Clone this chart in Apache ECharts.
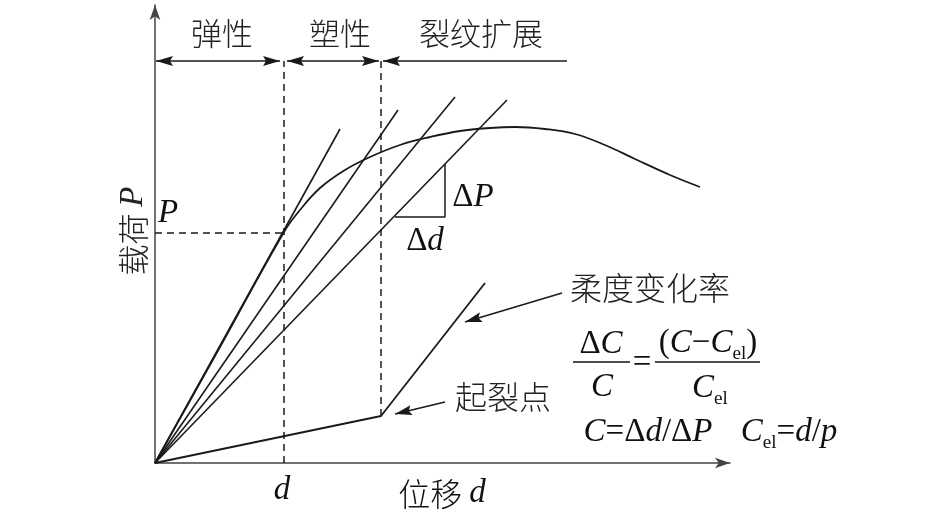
<!DOCTYPE html>
<html><head><meta charset="utf-8">
<script src="https://cdn.jsdelivr.net/npm/echarts@6/dist/echarts.min.js"></script>
<style>html,body{margin:0;padding:0;background:#fff}#c{width:945px;height:517px}</style>
</head><body><div id="c"></div>
<script>
// ---- data (schematic units: displacement d, load P) ----
var tangent1 = [[0, 0], [185, 334]];
var tangent2 = [[0, 0], [243, 353]];
var tangent3 = [[0, 0], [300, 366]];
var tangent4 = [[0, 0], [352, 363]];
var loadCurve = [[0,0],[60,107],[129,231],[145,253],[165,275],[190,293],[215,306],[245,318],[275,326],[305,332],[335,335],[360,336],[390,334],[420,329],[450,318],[480,304],[515,288],[545,276]];
var complianceLine = [[0, 0], [226, 47], [330, 180]];
var pLevelLine = [[0, 230], [129, 230]];
var dLevelLine = [[129, 0], [129, 402]];
var crackLine = [[226, 47], [226, 402]];
var triangle = [[240, 246], [290, 246], [290, 299]];
// arrows: [from, to]; an arrowhead is drawn at "to" (and at "from" for double arrows)
var stageArrows = [[[1, 402], [125, 402]], [[132, 402], [224, 402]]];
var pointerArrows = [[[412, 402], [228, 402]], [[407, 170], [310, 141]], [[290, 61], [240, 49]]];
var stageLabels = ['弹性', '塑性', '裂纹扩展'];
var stageAnchors = [[67, 430], [185, 430], [326, 430]];

var chart = echarts.init(document.getElementById('c'));
var K = '#1a1a1a';
function lineSeries(d, opt) {
  return Object.assign({type: 'line', data: d, symbol: 'none', silent: true, animation: false,
    lineStyle: {color: K, width: 1.6}}, opt || {});
}
chart.setOption({
  animation: false,
  grid: {left: 155, right: 215, top: 5, bottom: 54},
  xAxis: {type: 'value', min: 0, max: 575, splitLine: {show: false}, axisTick: {show: false}, axisLabel: {show: false},
    axisLine: {lineStyle: {color: '#444', width: 1.5}, symbol: ['none', 'arrow'], symbolSize: [8, 15]}},
  yAxis: {type: 'value', min: 0, max: 458, splitLine: {show: false}, axisTick: {show: false}, axisLabel: {show: false},
    axisLine: {lineStyle: {color: '#444', width: 1.5}, symbol: ['none', 'arrow'], symbolSize: [8, 15]}},
  series: [
    lineSeries(tangent1), lineSeries(tangent2), lineSeries(tangent3), lineSeries(tangent4),
    lineSeries(loadCurve, {smooth: 0.4, lineStyle: {color: K, width: 1.8}}),
    lineSeries(complianceLine, {lineStyle: {color: K, width: 1.8}}),
    lineSeries(pLevelLine, {lineStyle: {color: K, width: 1.5, type: [7, 5]}}),
    lineSeries(dLevelLine, {lineStyle: {color: K, width: 1.5, type: [7, 5]}}),
    lineSeries(crackLine, {lineStyle: {color: K, width: 1.5, type: [7, 5]}}),
    lineSeries(triangle, {lineStyle: {color: K, width: 1.5}}),
    {type: 'lines', coordinateSystem: 'cartesian2d', silent: true, symbol: 'none',
      lineStyle: {color: K, width: 1.6, opacity: 1},
      data: stageArrows.concat(pointerArrows).map(function (c) { return {coords: c}; })}
  ]
});

function px(p) { return chart.convertToPixel({gridIndex: 0}, p); }
var CJK = '"Noto Sans CJK SC", sans-serif';
var SER = '"Liberation Serif", "DejaVu Serif", serif';
function cjk(t, p, size) {
  var q = px(p);
  return {type: 'text', x: q[0], y: q[1], silent: true,
    style: {text: t, font: '300 ' + (size || 32) + 'px ' + CJK, fill: '#222', align: 'center', verticalAlign: 'middle'}};
}
function rich(t, p, size) {
  var q = px(p);
  size = size || 33;
  return {type: 'text', x: q[0], y: q[1], silent: true,
    style: {text: t, align: 'center', verticalAlign: 'middle', fill: '#111',
      rich: {
        i: {fontFamily: SER, fontStyle: 'italic', fontSize: size, lineHeight: size + 4, verticalAlign: 'bottom'},
        r: {fontFamily: SER, fontSize: size, lineHeight: size + 4, verticalAlign: 'bottom'},
        s: {fontFamily: SER, fontSize: size * 0.58, lineHeight: size + 4, verticalAlign: 'bottom', padding: [0, 0, -4, 0]},
        c: {fontFamily: CJK, fontWeight: 300, fontSize: 32, lineHeight: size + 4, verticalAlign: 'bottom'}
      }}};
}
function hline(a, b) {
  var p = px(a), q = px(b);
  return {type: 'line', silent: true, shape: {x1: p[0], y1: p[1], x2: q[0], y2: q[1]}, style: {stroke: '#111', lineWidth: 1.3}};
}
function head(from, to) {
  var a = px(from), b = px(to);
  var dx = b[0] - a[0], dy = b[1] - a[1], L = Math.sqrt(dx * dx + dy * dy);
  var ux = dx / L, uy = dy / L, nx = -uy, ny = ux;
  var len = 17, hw = 5, notch = 3;
  var bx = b[0] - ux * len, by = b[1] - uy * len;
  return {type: 'polygon', silent: true, shape: {points: [
    [b[0], b[1]], [bx + nx * hw, by + ny * hw], [bx + ux * notch, by + uy * notch], [bx - nx * hw, by - ny * hw]]},
    style: {fill: K}};
}
var g = [];
stageArrows.forEach(function (c) { g.push(head(c[0], c[1])); g.push(head(c[1], c[0])); });
pointerArrows.forEach(function (c) { g.push(head(c[0], c[1])); });
stageLabels.forEach(function (t, i) { g.push(cjk(t, stageAnchors[i], 31)); });
g.push(cjk('柔度变化率', [495, 175]));
g.push(cjk('起裂点', [348, 66]));
var yl = px([-22, 232]);
g.push({type: 'text', x: yl[0], y: yl[1], rotation: Math.PI / 2, silent: true,
  style: {text: '{c|载荷 }{i|P}', align: 'center', verticalAlign: 'middle', fill: '#222',
    rich: {c: {fontFamily: CJK, fontWeight: 300, fontSize: 31}, i: {fontFamily: SER, fontStyle: 'italic', fontSize: 33}}}});
g.push(rich('{c|位移 }{i|d}', [287, -28]));
g.push(rich('{i|P}', [13, 252]));
g.push(rich('{i|d}', [127, -25]));
g.push(rich('{r|Δ}{i|P}', [318, 268]));
g.push(rich('{r|Δ}{i|d}', [270, 224]));
g.push(rich('{r|Δ}{i|C}', [446, 121]));
g.push(hline([418, 101], [475, 101]));
g.push(rich('{i|C}', [447, 78]));
g.push(rich('{r|=}', [487, 102]));
g.push(rich('{r|(}{i|C}{r|−}{i|C}{s|el}{r|)}', [553, 122]));
g.push(hline([500, 101], [605, 101]));
g.push(rich('{i|C}{s|el}', [555, 77]));
g.push(rich('{i|C}{r|=Δ}{i|d}{r|/Δ}{i|P}', [493, 33]));
g.push(rich('{i|C}{s|el}{r|=}{i|d}{r|/}{i|p}', [634, 33]));
chart.setOption({graphic: g});
</script></body></html>
